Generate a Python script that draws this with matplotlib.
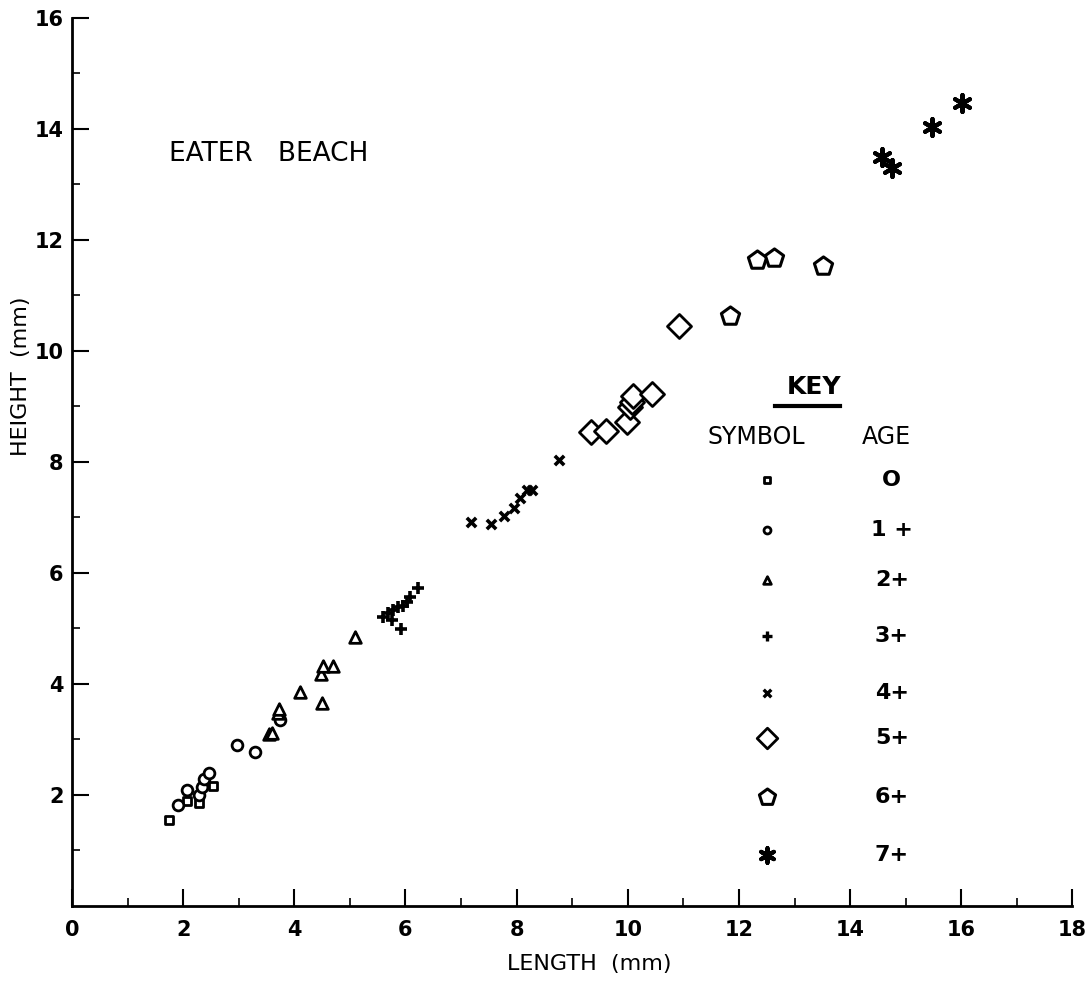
import numpy as np
import matplotlib.pyplot as plt

# Shell length vs height by age class
len_age0 = [1.74, 2.07, 2.28, 2.54]
ht_age0 = [1.54, 1.89, 1.85, 2.16]

len_age1 = [1.91, 2.07, 2.28, 2.34, 2.37, 2.47, 2.96, 3.29, 3.75]
ht_age1 = [1.82, 2.08, 2.00, 2.15, 2.28, 2.39, 2.90, 2.77, 3.35]

len_age2 = [3.55, 3.59, 3.70, 3.73, 4.11, 4.49, 4.48, 4.52, 4.70, 5.09]
ht_age2 = [3.09, 3.12, 3.48, 3.54, 3.86, 3.66, 4.18, 4.32, 4.32, 4.84]

len_age3 = [5.60, 5.69, 5.76, 5.78, 5.87, 5.96, 6.02, 6.08, 6.23, 5.92]
ht_age3 = [5.20, 5.27, 5.16, 5.33, 5.38, 5.41, 5.47, 5.56, 5.73, 4.99]

len_age4 = [7.18, 7.53, 7.78, 7.95, 8.06, 8.19, 8.27, 8.76]
ht_age4 = [6.92, 6.88, 7.02, 7.17, 7.35, 7.49, 7.49, 8.04]

len_age5 = [9.33, 9.60, 9.99, 10.04, 10.08, 10.10, 10.43, 10.92]
ht_age5 = [8.53, 8.55, 8.72, 8.98, 9.08, 9.19, 9.23, 10.45]

len_age6 = [11.83, 12.33, 12.63, 13.51]
ht_age6 = [10.63, 11.63, 11.67, 11.53]

len_age7 = [14.57, 14.76, 15.47, 16.01]
ht_age7 = [13.49, 13.29, 14.04, 14.46]

age_labels = ['O', '1 +', '2+', '3+', '4+', '5+', '6+', '7+']

plt.rcParams['font.family'] = 'DejaVu Sans'

fig = plt.figure(figsize=(10.91, 9.89), dpi=100)
ax = fig.add_axes([0.066, 0.084, 0.917, 0.898])

ax.scatter(len_age0, ht_age0, marker='s', s=30, facecolor='white', edgecolor='black', linewidth=2)
ax.scatter(len_age1, ht_age1, marker='o', s=60, facecolor='white', edgecolor='black', linewidth=2)
ax.scatter(len_age2, ht_age2, marker='^', s=70, facecolor='white', edgecolor='black', linewidth=2)
ax.scatter(len_age3, ht_age3, marker='+', s=80, color='black', linewidth=2.6)
ax.scatter(len_age4, ht_age4, marker='x', s=45, color='black', linewidth=2.6)
ax.scatter(len_age5, ht_age5, marker='D', s=150, facecolor='white', edgecolor='black', linewidth=2)
ax.scatter(len_age6, ht_age6, marker='p', s=190, facecolor='white', edgecolor='black', linewidth=2.2)
ax.scatter(len_age7, ht_age7, marker=(6, 2, 0), s=150, color='black', linewidth=3)

# key
key_x, age_x = 12.5, 14.75
key_rows = [7.67, 6.77, 5.88, 4.86, 3.84, 3.03, 1.96, 0.92]
key_styles = [dict(marker='s', s=22, facecolor='white', edgecolor='black', linewidth=2),
              dict(marker='o', s=25, facecolor='white', edgecolor='black', linewidth=2),
              dict(marker='^', s=30, facecolor='white', edgecolor='black', linewidth=2),
              dict(marker='+', s=55, color='black', linewidth=2.4),
              dict(marker='x', s=30, color='black', linewidth=2.4),
              dict(marker='D', s=110, facecolor='white', edgecolor='black', linewidth=2),
              dict(marker='p', s=150, facecolor='white', edgecolor='black', linewidth=2.2),
              dict(marker=(6, 2, 0), s=110, color='black', linewidth=3)]
for yk, style, lab in zip(key_rows, key_styles, age_labels):
    ax.scatter([key_x], [yk], **style)
    ax.text(age_x, yk, lab, fontsize=16, fontweight='bold', ha='center', va='center')

ax.text(13.36, 9.34, 'KEY', fontsize=18, fontweight='bold', ha='center', va='center')
ax.plot([12.65, 13.82], [9.0, 9.0], color='black', linewidth=3)
ax.text(12.32, 8.45, 'SYMBOL', fontsize=17, ha='center', va='center')
ax.text(14.66, 8.45, 'AGE', fontsize=17, ha='center', va='center')

ax.text(1.75, 13.55, 'EATER   BEACH', fontsize=19, ha='left', va='center')

ax.set_xlim(0, 18)
ax.set_ylim(0, 16)
ax.spines['top'].set_visible(False)
ax.spines['right'].set_visible(False)
ax.spines['left'].set_linewidth(2)
ax.spines['bottom'].set_linewidth(2)

ax.set_xticks(np.arange(0, 19, 2))
ax.set_xticks(np.arange(1, 18, 2), minor=True)
ax.set_yticks(np.arange(2, 17, 2))
ax.set_yticks(np.arange(1, 16, 2), minor=True)
ax.tick_params(which='major', direction='in', length=12, width=1.5, labelsize=15, pad=10)
ax.tick_params(which='minor', direction='in', length=6, width=1.2)
ax.tick_params(axis='y', pad=6)
for lbl in ax.get_xticklabels() + ax.get_yticklabels():
    lbl.set_fontweight('bold')

fig.text(0.54, 0.025, 'LENGTH  (mm)', fontsize=16, ha='center', va='center')
fig.text(0.019, 0.62, 'HEIGHT  (mm)', fontsize=16, ha='center', va='center', rotation=90)

fig.savefig('out.png', dpi=100, facecolor='white')
